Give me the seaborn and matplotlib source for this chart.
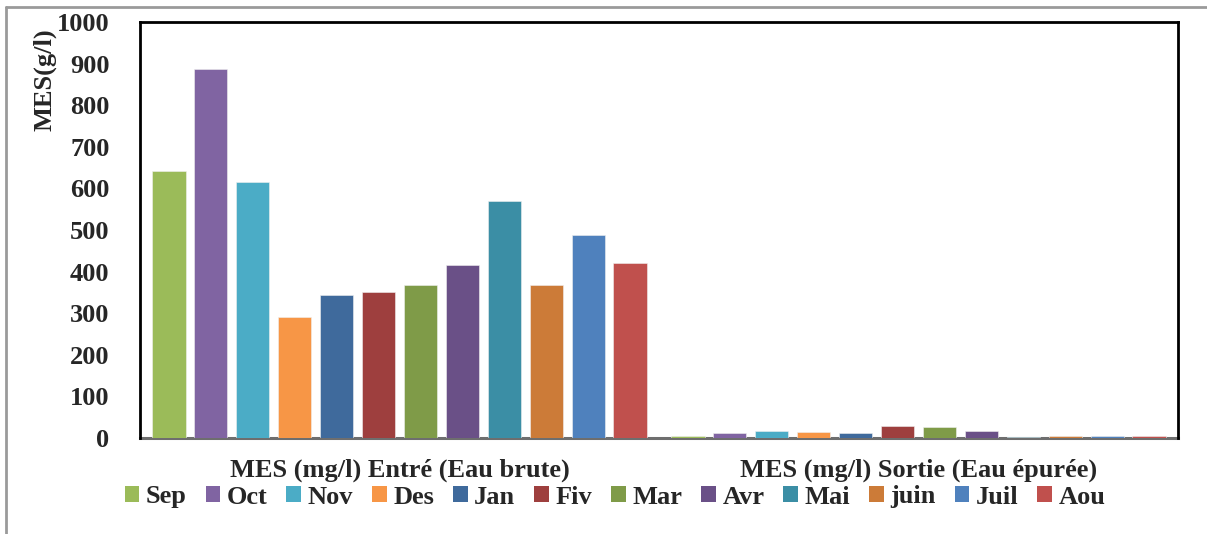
import matplotlib
matplotlib.use("Agg")
import matplotlib.pyplot as plt
import seaborn as sns
import pandas as pd
from matplotlib.lines import Line2D
from matplotlib.patches import Patch

categories = ["MES (mg/l) Entré (Eau brute)", "MES (mg/l) Sortie (Eau épurée)"]
months = ["Sep", "Oct", "Nov", "Des", "Jan", "Fiv", "Mar", "Avr", "Mai", "juin", "Juil", "Aou"]
entree = [642, 887, 615, 290, 344, 350, 367, 416, 570, 367, 489, 421]
sortie = [6, 12, 17, 14, 13, 30, 27, 17, 3, 6, 5, 4]
colors = ["#9BBB59", "#8064A2", "#4BACC6", "#F79646", "#3F6A9C", "#9E3F3E",
          "#7F9B48", "#6A5087", "#3B8EA5", "#CC7B38", "#4F81BD", "#C0504D"]
yticks = [0, 100, 200, 300, 400, 500, 600, 700, 800, 900, 1000]

rows = []
for m, a, b in zip(months, entree, sortie):
    rows.append({"cat": categories[0], "month": m, "value": a})
    rows.append({"cat": categories[1], "month": m, "value": b})
df = pd.DataFrame(rows)

sns.set_theme(style="white")
plt.rcParams["font.family"] = ["Liberation Serif", "DejaVu Serif"]
plt.rcParams["font.weight"] = "bold"

fig = plt.figure(figsize=(12.07, 5.34), dpi=100)
ax = fig.add_axes([140/1207, 1-438/534, (1178-140)/1207, (438-22)/534])

sns.barplot(data=df, x="cat", y="value", hue="month", order=categories,
            hue_order=months, palette=colors, width=0.97, gap=0.2,
            saturation=1, edgecolor="#f0f0f0", linewidth=0.4, ax=ax, legend=False)
for p in ax.patches:
    p.set_zorder(3)

ax.set_ylim(0, 1000)
ax.set_yticks(yticks)
ax.set_yticklabels([str(t) for t in yticks], fontsize=19, fontweight="bold")
ax.set_xticks(range(len(categories)))
ax.set_xticklabels(categories, fontsize=19, fontweight="bold")
ax.tick_params(axis="y", length=0, pad=22)
ax.tick_params(axis="x", length=0, pad=15)
ax.set_xlabel("")
ax.set_ylabel("")
for s in ["left", "top", "right"]:
    ax.spines[s].set_color("black")
    ax.spines[s].set_linewidth(2)
ax.spines["bottom"].set_color("#6e6e6e")
ax.spines["bottom"].set_linewidth(2.2)
ax.spines["bottom"].set_zorder(1)

fig.text(45/1207, 1-80/534, "MES(g/l)", rotation=90, ha="center", va="center",
         fontsize=19, fontweight="bold")

handles = [Patch(facecolor=c, edgecolor="none") for c in colors]
fig.legend(handles, months, loc="center", bbox_to_anchor=(615/1207, 1-497/534),
           ncol=12, frameon=False, handlelength=0.55, handleheight=0.55,
           handletextpad=0.25, columnspacing=0.72,
           prop={"family": "Liberation Serif", "weight": "bold", "size": 19})

# outer gray border
fig.add_artist(Line2D([6/1207, 6/1207], [0, 1-7/534], color="#9a9a9a", lw=2,
                      transform=fig.transFigure))
fig.add_artist(Line2D([6/1207, 1], [1-7/534, 1-7/534], color="#9a9a9a", lw=2,
                      transform=fig.transFigure))

fig.savefig("out.png", dpi=100)
